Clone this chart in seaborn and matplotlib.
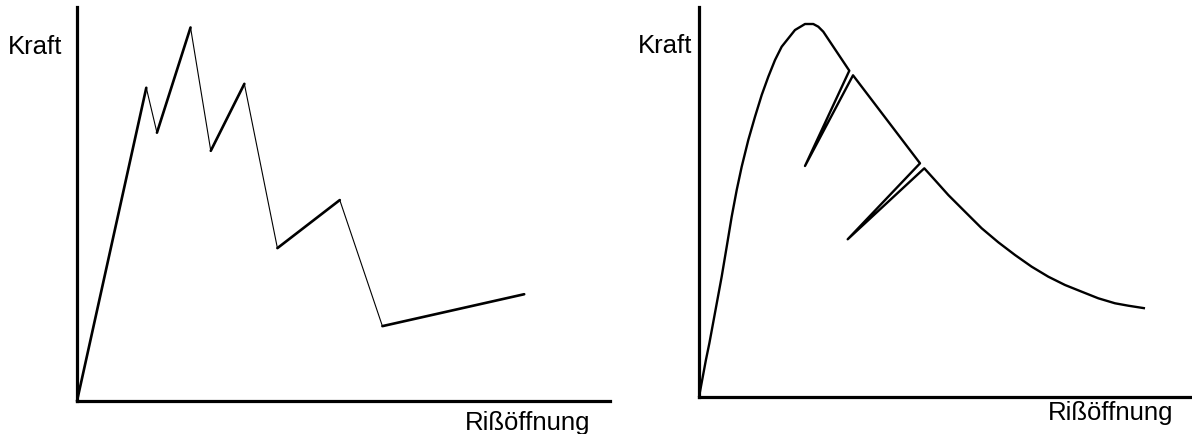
import matplotlib
matplotlib.use("Agg")
import matplotlib.pyplot as plt
import pandas as pd
import seaborn as sns

sns.set_theme(style="white")
plt.rcParams["font.family"] = ["Liberation Sans", "DejaVu Sans"]
plt.rcParams["text.color"] = "black"

# Left: stepwise load path (Rißöffnung vs. Kraft), loading thick, unloading thin
left_x = [0.00, 1.30, 1.50, 2.13, 2.51, 3.14, 3.76, 4.93, 5.73, 8.39]
left_y = [0.00, 7.95, 6.81, 9.48, 6.35, 8.05, 3.88, 5.10, 1.90, 2.71]
left_thick = [True, False, True, False, True, False, True, False, True]

# Right: smooth softening curve with two unload/reload loops
right_x = [0.000, 0.140, 0.210, 0.335, 0.460, 0.562, 0.663, 0.765, 0.866,
           1.000, 1.136, 1.272, 1.406, 1.542, 1.677, 1.947, 2.083, 2.150,
           2.318, 2.420, 2.521, 3.049,
           2.150, 3.124, 4.483, 3.016, 4.570,
           4.815, 5.057, 5.396, 5.734, 6.071, 6.410, 6.748, 7.085, 7.424,
           7.763, 8.099, 8.438, 8.708, 9.047]
right_y = [0.000, 0.949, 1.377, 2.231, 3.085, 3.854, 4.623, 5.308, 5.905,
           6.590, 7.187, 7.744, 8.213, 8.641, 8.982, 9.410, 9.513, 9.564,
           9.564, 9.495, 9.367, 8.367,
           5.923, 8.249, 5.992, 4.044, 5.864,
           5.521, 5.179, 4.751, 4.326, 3.967, 3.641, 3.341, 3.085, 2.872,
           2.700, 2.531, 2.403, 2.341, 2.274]

y_label = "Kraft"
x_label = "Rißöffnung"

W, H = 1192, 434
fig = plt.figure(figsize=(W / 100, H / 100), dpi=100)
ax_l = fig.add_axes([77 / W, 33 / H, 533 / W, 394 / H])
ax_r = fig.add_axes([699 / W, 37 / H, 493 / W, 390 / H])

# left panel, one segment at a time
for i, thick in enumerate(left_thick):
    seg = pd.DataFrame({"x": left_x[i:i + 2], "y": left_y[i:i + 2]})
    sns.lineplot(data=seg, x="x", y="y", ax=ax_l, color="black",
                 linewidth=1.9 if thick else 0.8, sort=False,
                 estimator=None, clip_on=False)

# right panel, one continuous path
df_r = pd.DataFrame({"x": right_x, "y": right_y})
sns.lineplot(data=df_r, x="x", y="y", ax=ax_r, color="black", linewidth=1.7,
             sort=False, estimator=None, clip_on=False,
             solid_joinstyle="round", solid_capstyle="butt")

for ax in (ax_l, ax_r):
    ax.set_xlim(0, 10)
    ax.set_ylim(0, 10)
    ax.set_xticks([])
    ax.set_yticks([])
    ax.set_xlabel("")
    ax.set_ylabel("")
    for side in ("top", "right"):
        ax.spines[side].set_visible(False)
    for side in ("left", "bottom"):
        ax.spines[side].set_color("black")
        ax.spines[side].set_linewidth(2.3)
    ax.set_facecolor("white")

fs = 18.5
fig.text(8 / W, 1 - 47 / H, y_label, ha="left", va="center", fontsize=fs,
         color="black")
fig.text(638 / W, 1 - 46 / H, y_label, ha="left", va="center", fontsize=fs,
         color="black")
fig.text(590 / W, 1 - 423 / H, x_label, ha="right", va="center", fontsize=fs,
         color="black")
fig.text(1173 / W, 1 - 413 / H, x_label, ha="right", va="center", fontsize=fs,
         color="black")

fig.savefig("out.png", dpi=100, facecolor="white")
